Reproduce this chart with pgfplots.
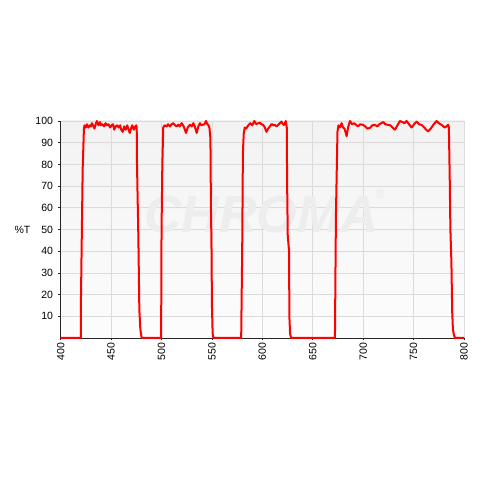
\documentclass[border=0pt]{standalone}
\usepackage{pgfplots}
\pgfplotsset{compat=1.18}
\usepackage{fontspec}
\setmainfont{Liberation Sans}
\begin{document}
\begin{tikzpicture}
\path[use as bounding box] (0,0) rectangle (480bp,480bp);
\begin{axis}[
  at={(60.7bp,142bp)}, anchor=south west,
  scale only axis, width=403.3bp, height=217bp,
  xmin=400, xmax=800, ymin=0, ymax=100,
  axis x line=bottom, axis y line=left,
  axis line style={-, black!85, line width=0.8bp},
  xtick={400,450,...,800}, ytick={10,20,...,100},
  tick align=outside, major tick length=2.5bp,
  tick style={black!85, line width=0.6bp},
  grid=major, major grid style={black!14, line width=0.7bp},
  axis background/.style={top color=black!5, bottom color=black!1},
  font=\fontsize{10.5bp}{12bp}\selectfont,
  /pgf/number format/assume math mode=true,
  /pgf/number format/set thousands separator={},
  xticklabel style={rotate=90, anchor=east, inner sep=2bp, yshift=0bp},
  yticklabel style={anchor=east, inner sep=2bp, xshift=-3bp},
  ylabel={\%T},
  ylabel style={rotate=-90, at={(axis description cs:-0.095,0.5)}, anchor=center},
  clip=false,
]
\node[text=black!7, font=\fontsize{52bp}{56bp}\selectfont\bfseries\itshape] at (axis cs:599,57) {CHROMA};
\node[text=black!9, font=\fontsize{12bp}{12bp}\selectfont] at (axis cs:717,66) {®};
\addplot[red, line width=2bp, line join=round] coordinates {
(400,0) (420,0) (420.1,18) (421,50) (421.8,78) (423,96) (423.5,98) (425,97) (426,98.5) (427.5,97) (429,98) (430,97.5) (431,99) (432,98) (433.5,96.5) (435,99) (436,100) (437.5,98) (439,99.5) (440,98) (441.5,98.5) (443,97.5) (444.5,99) (446,98) (447.5,98.5) (449,97) (450.5,98) (452,98.5) (453,96) (454.5,97.5) (456,98) (457.5,97) (459,98) (460,96) (461.5,95) (463,97.5) (464.5,96) (466,98) (467,96.5) (468.5,94.5) (470,97) (471,98) (472.5,96) (474,97.5) (475,98) (475.4,97) (475.6,82) (477,47) (478,13) (479,4) (480.3,0)
(499.5,0) (499.8,20) (500,49) (500.8,80) (501.7,97) (503,98) (505.1,97.5) (506.5,98.5) (508.4,97.5) (510,98.5) (511.7,99) (513.5,98) (515,97.5) (516.6,98.3) (518,97.5) (520,99) (522,97.5) (524.3,94.5) (526,97) (528.2,98.3) (530,97.5) (531.5,99) (533,97.5) (534.9,94.5) (536.5,97.5) (538.1,99) (539.5,98) (540.8,98.3) (542.5,98.5) (544.1,100) (545.5,98.5) (546.6,98) (547.5,97) (548.5,92) (549,60) (549.5,45) (550,15) (550.7,2) (551.5,0)
(579,0) (579.5,20) (580,40) (580.7,85) (581.5,94) (582.5,97) (584,96.5) (586,98) (588,99) (590,98) (592,100) (594,98.5) (596,99) (597.6,99.2) (599,98.5) (600.9,98.2) (602.5,97) (604,95) (605.8,96.5) (607.5,97.5) (609.1,98.6) (611,98) (612.4,98.2) (614,97.5) (615.7,98.2) (617.5,99) (619,99.7) (620.5,98.5) (621.5,98.2) (623.3,100) (624.2,97) (624.6,70) (625.2,47) (626.5,40) (626.8,10) (627.5,2) (628.5,0)
(672,0) (672.5,30) (673,57) (673.7,75) (674.5,95) (675.5,98) (677,97) (678.6,99) (680,97) (681.5,96.5) (683.6,93) (685,97) (686.9,100) (689,98.5) (691,99) (693.5,98) (695,97.5) (697,98.5) (700,98.2) (702,97.5) (704,96.5) (706.7,96.8) (709,98) (711.6,98.2) (714,97.5) (716,98.5) (719.9,99.5) (722,98.5) (724.8,98.2) (727,98) (729,97) (731.5,96) (734,98) (736.4,100) (739,99.5) (741,99) (743,100) (745.5,98.5) (748,97) (750.5,98.5) (753,99.7) (755.5,98.5) (758,98.2) (760.5,97) (762.5,96) (764.5,95.2) (767,96.5) (770,98.5) (772.8,100) (775,99) (777.8,98.2) (779.5,97.5) (781,97) (782.5,97.5) (784.3,98.2) (785,97) (785.8,75) (786.5,50) (787.5,35) (788.3,12) (789,4) (790,1.5) (791,0) (800,0)
};
\end{axis}
\end{tikzpicture}
\end{document}
